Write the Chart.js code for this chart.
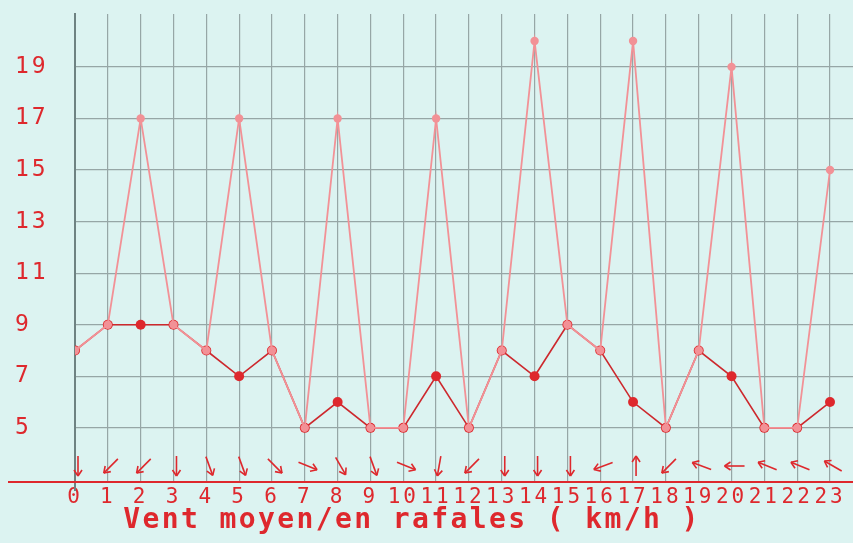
<!DOCTYPE html>
<html>
<head>
<meta charset="utf-8">
<script src="https://cdn.jsdelivr.net/npm/chart.js@4/dist/chart.umd.min.js"></script>
<style>
  html, body { margin: 0; padding: 0; background: #dcf3f1; }
  #wrap { width: 853px; height: 543px; }
</style>
</head>
<body>
<div id="wrap"><canvas id="c" width="853" height="543"></canvas></div>
<script>
// ---- data ----
const hours = [0,1,2,3,4,5,6,7,8,9,10,11,12,13,14,15,16,17,18,19,20,21,22,23];
const windMean = [8,9,9,9,8,7,8,5,6,5,5,7,5,8,7,9,8,6,5,8,7,5,5,6];
const windGust = [8,9,17,9,8,17,8,5,17,5,5,17,5,8,20,9,8,20,5,8,19,5,5,15];
// direction each arrow points to (compass degrees: 0 = up, 90 = right, 180 = down)
const arrowDir = [180,225,225,180,160,160,135,112,150,160,112,190,225,180,180,180,250,0,225,290,270,292,292,300];
const yTicks = [5,7,9,11,13,15,17,19];
const axisTitle = 'Vent moyen/en rafales ( km/h )';

const RED = 'rgb(222,40,45)';
const PINK = 'rgb(242,145,150)';
const GRID = 'rgb(150,166,166)';

const bgPlugin = {
  id: 'bg',
  beforeDraw(chart) {
    const ctx = chart.ctx;
    ctx.save();
    ctx.fillStyle = '#dcf3f1';
    ctx.fillRect(0, 0, chart.width, chart.height);
    ctx.restore();
    ctx.letterSpacing = '3px';
  },
  afterDraw(chart) {
    chart.ctx.letterSpacing = '0px';
  }
};

const decoPlugin = {
  id: 'deco',
  beforeDatasetsDraw(chart) {
    const ctx = chart.ctx;
    const xs = chart.scales.x;
    const area = chart.chartArea;
    // wind direction arrows
    ctx.save();
    ctx.strokeStyle = RED;
    ctx.fillStyle = RED;
    ctx.lineWidth = 1.6;
    const cy = area.bottom - 16;
    const len = 20;
    arrowDir.forEach((d, i) => {
      const cx = xs.getPixelForValue(hours[i]) + 3;
      const a = d * Math.PI / 180;
      const dx = Math.sin(a), dy = -Math.cos(a);
      const x1 = cx - dx * len / 2, y1 = cy - dy * len / 2;
      const x2 = cx + dx * len / 2, y2 = cy + dy * len / 2;
      ctx.beginPath();
      ctx.moveTo(x1, y1);
      ctx.lineTo(x2, y2);
      ctx.stroke();
      const h = 6, w = 4;
      const bx = x2 - dx * h, by = y2 - dy * h;
      ctx.beginPath();
      ctx.moveTo(x2, y2);
      ctx.lineTo(bx - dy * w, by + dx * w);
      ctx.moveTo(x2, y2);
      ctx.lineTo(bx + dy * w, by - dx * w);
      ctx.stroke();
    });
    ctx.restore();
  },
  afterDraw(chart) {
    const ctx = chart.ctx;
    const area = chart.chartArea;
    ctx.save();
    ctx.letterSpacing = '0px';
    // y axis line continues slightly below the x axis
    ctx.strokeStyle = 'rgb(110,130,130)';
    ctx.lineWidth = 2;
    ctx.beginPath();
    ctx.moveTo(area.left, area.bottom);
    ctx.lineTo(area.left, area.bottom + 9);
    ctx.stroke();
    // red x axis line
    ctx.strokeStyle = RED;
    ctx.lineWidth = 2;
    ctx.beginPath();
    ctx.moveTo(8, area.bottom);
    ctx.lineTo(chart.width, area.bottom);
    ctx.stroke();
    // axis title
    ctx.letterSpacing = '2.4px';
    ctx.fillStyle = RED;
    ctx.font = 'bold 28px "DejaVu Sans Mono"';
    ctx.textAlign = 'center';
    ctx.textBaseline = 'middle';
    ctx.fillText(axisTitle, 412, chart.height - 22);
    ctx.restore();
  }
};

new Chart(document.getElementById('c'), {
  type: 'line',
  data: {
    datasets: [
      {
        label: 'Rafales',
        data: hours.map((h, i) => ({ x: h, y: windGust[i] })),
        borderColor: PINK,
        backgroundColor: PINK,
        borderWidth: 1.8,
        pointRadius: 4.2,
        pointBorderWidth: 0,
        pointStyle: 'circle',
        tension: 0,
        order: 0
      },
      {
        label: 'Moyen',
        data: hours.map((h, i) => ({ x: h, y: windMean[i] })),
        borderColor: 'rgb(205,40,45)',
        backgroundColor: RED,
        borderWidth: 1.6,
        pointRadius: 5,
        pointBorderWidth: 0,
        pointStyle: 'circle',
        tension: 0,
        order: 1
      }
    ]
  },
  options: {
    responsive: false,
    animation: false,
    devicePixelRatio: 1,
    layout: { autoPadding: false, padding: { top: 14, left: 15, right: 0, bottom: 0 } },
    plugins: {
      legend: { display: false },
      tooltip: { enabled: false },
      title: { display: false }
    },
    scales: {
      x: {
        type: 'linear',
        min: 0,
        max: 23.7,
        afterBuildTicks(scale) { scale.ticks = hours.map(v => ({ value: v })); },
        afterFit(scale) { scale.height = 61; },
        grid: { color: GRID, lineWidth: 1.2, drawTicks: false },
        border: { display: false },
        ticks: {
          color: RED,
          font: { family: '"DejaVu Sans Mono"', size: 21 },
          padding: 3,
          maxRotation: 0,
          autoSkip: false,
          callback: v => String(v)
        }
      },
      y: {
        type: 'linear',
        min: 2.9,
        max: 21.05,
        afterBuildTicks(scale) { scale.ticks = yTicks.map(v => ({ value: v })); },
        afterFit(scale) { scale.width = 60; },
        grid: { color: GRID, lineWidth: 1.2, drawTicks: false },
        border: { display: true, color: 'rgb(110,130,130)', width: 2 },
        ticks: {
          color: RED,
          font: { family: '"DejaVu Sans Mono"', size: 23 },
          crossAlign: 'far',
          padding: 0,
          callback: v => String(v)
        }
      }
    }
  },
  plugins: [bgPlugin, decoPlugin]
});
</script>
</body>
</html>
